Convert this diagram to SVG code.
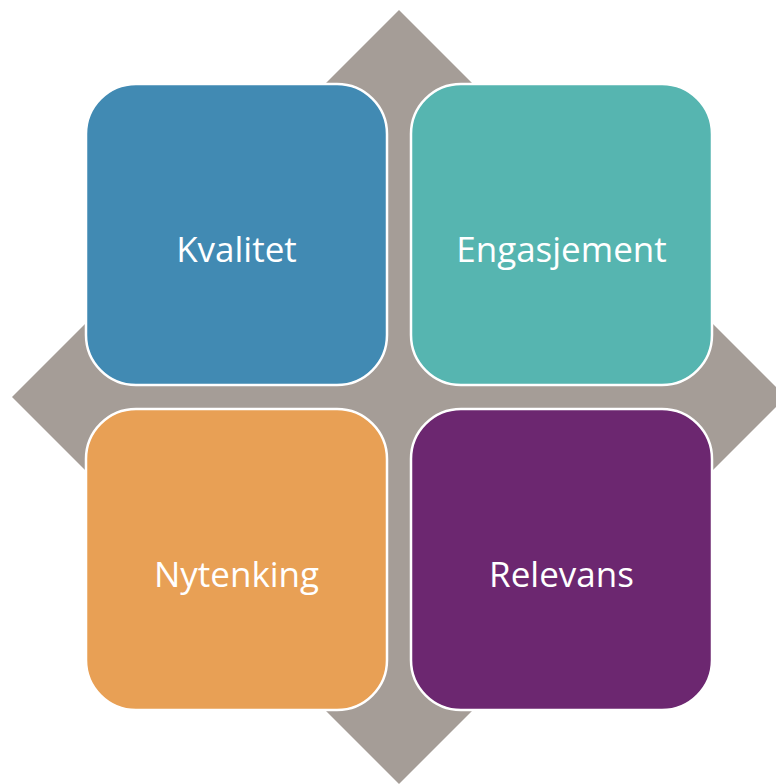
<svg xmlns="http://www.w3.org/2000/svg" width="776" height="784" viewBox="0 0 776 784">
<style>
.box{stroke:#FFFFFF;stroke-width:2.5}
.lbl{font-family:"Open Sans","Liberation Sans",sans-serif;font-size:35px;fill:#FFFFFF;text-anchor:middle}
</style>
<rect width="776" height="784" fill="#FFFFFF"/>
<g id="diamond">
<polygon points="399,10 786,397 399,784 12,397" fill="#A59D97"/>
</g>
<g id="connectors"></g>
<g id="kvalitet">
<rect class="box" x="86" y="84" width="301" height="301" rx="50" ry="50" fill="#418AB3"/>
<text class="lbl" x="236.5" y="262">Kvalitet</text>
</g>
<g id="engasjement">
<rect class="box" x="411" y="84" width="301" height="301" rx="50" ry="50" fill="#56B5B0"/>
<text class="lbl" x="561.5" y="262">Engasjement</text>
</g>
<g id="nytenking">
<rect class="box" x="86" y="409" width="301" height="301" rx="50" ry="50" fill="#E8A055"/>
<text class="lbl" x="236.5" y="587">Nytenking</text>
</g>
<g id="relevans">
<rect class="box" x="411" y="409" width="301" height="301" rx="50" ry="50" fill="#6C2770"/>
<text class="lbl" x="561.5" y="587">Relevans</text>
</g>
</svg>
